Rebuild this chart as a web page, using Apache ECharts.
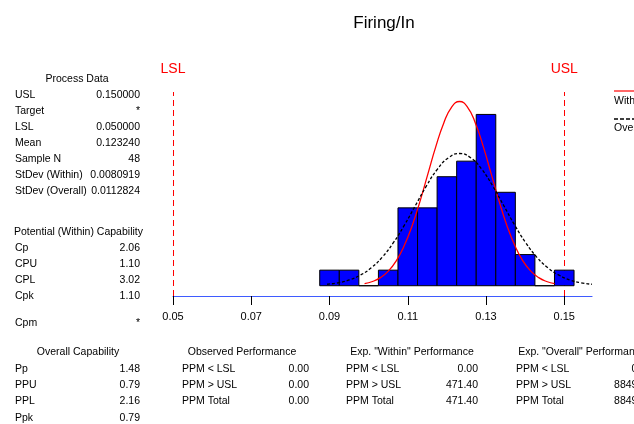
<!DOCTYPE html>
<html>
<head>
<meta charset="utf-8">
<script src="https://cdn.jsdelivr.net/npm/echarts@6/dist/echarts.min.js"></script>
<style>html,body{margin:0;padding:0;background:#fff;}#c{width:634px;height:424px;}</style>
</head>
<body>
<div id="c"></div>
<script>
// ---- data ----
const title = 'Firing/In';
const binEdges = [0.0875, 0.0925, 0.0975, 0.1025, 0.1075, 0.1125, 0.1175, 0.1225, 0.1275, 0.1325, 0.1375, 0.1425, 0.1475, 0.1525];
const counts = [1, 1, 0, 1, 5, 5, 7, 8, 11, 6, 2, 0, 1];
const tickValues = [0.05, 0.07, 0.09, 0.11, 0.13, 0.15];
const specLimits = [{ name: 'LSL', value: 0.05 }, { name: 'USL', value: 0.15 }];
const withinX = [0.09896, 0.10099, 0.10301, 0.10503, 0.10706, 0.10908, 0.11110, 0.11313, 0.11515, 0.11717, 0.11919, 0.12122, 0.12324, 0.12526, 0.12729, 0.12931, 0.13133, 0.13336, 0.13538, 0.13740, 0.13942, 0.14145, 0.14347, 0.14549, 0.14752];
const withinY = [0.13, 0.27, 0.52, 0.94, 1.60, 2.56, 3.84, 5.42, 7.18, 8.93, 10.44, 11.47, 11.83, 11.47, 10.44, 8.93, 7.18, 5.42, 3.84, 2.56, 1.60, 0.94, 0.52, 0.27, 0.13];
const overallX = [0.08939, 0.09221, 0.09503, 0.09785, 0.10068, 0.10350, 0.10632, 0.10914, 0.11196, 0.11478, 0.11760, 0.12042, 0.12324, 0.12606, 0.12888, 0.13170, 0.13452, 0.13734, 0.14016, 0.14298, 0.14581, 0.14863, 0.15145, 0.15427, 0.15709];
const overallY = [0.094, 0.19, 0.37, 0.68, 1.15, 1.84, 2.76, 3.89, 5.15, 6.41, 7.49, 8.22, 8.49, 8.22, 7.49, 6.41, 5.15, 3.89, 2.76, 1.84, 1.15, 0.68, 0.37, 0.19, 0.094];
const legendNames = ['Within', 'Overall'];

const processHeader = 'Process Data';
const processLabels = ['USL', 'Target', 'LSL', 'Mean', 'Sample N', 'StDev (Within)', 'StDev (Overall)'];
const processValues = ['0.150000', '*', '0.050000', '0.123240', '48', '0.0080919', '0.0112824'];
const potentialHeader = 'Potential (Within) Capability';
const potentialLabels = ['Cp', 'CPU', 'CPL', 'Cpk'];
const potentialValues = ['2.06', '1.10', '3.02', '1.10'];
const cpmLabel = 'Cpm';
const cpmValue = '*';
const overallHeader = 'Overall Capability';
const overallLabels = ['Pp', 'PPU', 'PPL', 'Ppk'];
const overallValues = ['1.48', '0.79', '2.16', '0.79'];
const ppmLabels = ['PPM < LSL', 'PPM > USL', 'PPM Total'];
const observedHeader = 'Observed Performance';
const observedValues = ['0.00', '0.00', '0.00'];
const expWithinHeader = 'Exp. "Within" Performance';
const expWithinValues = ['0.00', '471.40', '471.40'];
const expOverallHeader = 'Exp. "Overall" Performance';
const expOverallValues = ['0.00', '8849.56', '8849.56'];

// ---- build ----
const FONT = '"Liberation Sans", Arial, sans-serif';
const chart = echarts.init(document.getElementById('c'), null, { renderer: 'canvas' });

function txt(text, x, y, align) {
  return { type: 'text', silent: true, style: { text: text, x: x, y: y, fill: '#000', font: '10.5px ' + FONT, textAlign: align || 'left', textVerticalAlign: 'middle' } };
}
const graphics = [];
function table(header, headerX, headerY, labels, values, labelX, valueX, rowY, step, headerAlign) {
  graphics.push(txt(header, headerX, headerY, headerAlign || 'center'));
  labels.forEach((l, i) => {
    graphics.push(txt(l, labelX, rowY + i * step));
    graphics.push(txt(values[i], valueX, rowY + i * step, 'right'));
  });
}
table(processHeader, 77, 79, processLabels, processValues, 15, 140, 95, 16);
table(potentialHeader, 14, 232, potentialLabels, potentialValues, 15, 140, 248, 16, 'left');
graphics.push(txt(cpmLabel, 15, 323));
graphics.push(txt(cpmValue, 140, 323, 'right'));
table(overallHeader, 78, 352, overallLabels, overallValues, 15, 140, 369, 16.3);
table(observedHeader, 242, 352, ppmLabels, observedValues, 182, 309, 369, 16.3);
table(expWithinHeader, 412, 352, ppmLabels, expWithinValues, 346, 478, 369, 16.3);
table(expOverallHeader, 582, 352, ppmLabels, expOverallValues, 516, 652, 369, 16.3);

// legend (right, partly cut off)
graphics.push({ type: 'line', silent: true, shape: { x1: 614, y1: 91, x2: 640, y2: 91 }, style: { stroke: '#ff0000', lineWidth: 1.2 } });
graphics.push(txt(legendNames[0], 614, 101));
graphics.push({ type: 'line', silent: true, shape: { x1: 614, y1: 119, x2: 640, y2: 119 }, style: { stroke: '#000', lineWidth: 1.5, lineDash: [4, 2] } });
graphics.push(txt(legendNames[1], 614, 128));

const barData = counts.map((c, i) => [binEdges[i], binEdges[i + 1], c]);

chart.setOption({
  animation: false,
  backgroundColor: '#fff',
  title: { text: title, left: 379, top: 10, textAlign: 'center', textStyle: { fontFamily: FONT, fontSize: 17, fontWeight: 'normal', color: '#000' } },
  grid: { left: 173, right: 42, top: 92, bottom: 128 },
  xAxis: {
    type: 'value', min: 0.05, max: 0.15709,
    axisLine: { show: true, onZero: false, lineStyle: { color: '#3f5bff', width: 1.2 } },
    axisTick: { show: true, length: 9, customValues: tickValues, lineStyle: { color: '#000', width: 1 } },
    axisLabel: { customValues: tickValues, margin: 15, color: '#000', fontFamily: FONT, fontSize: 11, formatter: v => v.toFixed(2) },
    splitLine: { show: false }
  },
  yAxis: { type: 'value', min: -0.66, max: 12.44, show: false, splitLine: { show: false } },
  graphic: graphics,
  series: [
    {
      type: 'custom', name: 'hist', data: barData, encode: { x: [0, 1], y: 2 }, z: 2,
      renderItem: function (params, api) {
        const p0 = api.coord([api.value(0), 0]);
        const p1 = api.coord([api.value(1), api.value(2)]);
        return { type: 'rect', shape: { x: p0[0], y: p1[1], width: p1[0] - p0[0], height: p0[1] - p1[1] }, style: { fill: '#0000ff', stroke: '#000', lineWidth: 1 } };
      },
      markLine: {
        silent: true, symbol: 'none', z: 1,
        lineStyle: { color: '#ff0000', type: [6, 4], width: 1 },
        label: { show: true, position: 'end', distance: 16, color: '#ff0000', fontFamily: FONT, fontSize: 14, formatter: p => p.name },
        data: specLimits.map(s => ({ name: s.name, xAxis: s.value }))
      }
    },
    { type: 'line', name: legendNames[0], data: withinX.map((x, i) => [x, withinY[i]]), smooth: true, showSymbol: false, symbol: 'none', z: 3, lineStyle: { color: '#ff0000', width: 1.3 } },
    { type: 'line', name: legendNames[1], data: overallX.map((x, i) => [x, overallY[i]]), smooth: true, showSymbol: false, symbol: 'none', z: 4, lineStyle: { color: '#000', width: 1.3, type: [3, 2] } }
  ]
});
</script>
</body>
</html>
